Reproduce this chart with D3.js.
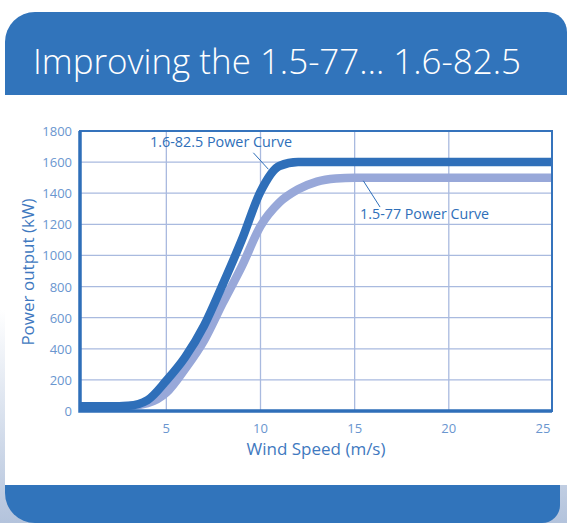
<!DOCTYPE html>
<html>
<head>
<meta charset="utf-8">
<script src="https://cdn.jsdelivr.net/npm/d3@7"></script>
<style>
  body { margin: 0; background: #fff; }
  text { font-family: 'Open Sans', sans-serif; }
</style>
</head>
<body>
<div class="power-chart"></div>
<script>
// wind speed (m/s) and power (kW)
const windSpeed = [0, 1, 2, 3, 4, 5, 6, 7, 8, 9, 10, 11, 12, 13, 14, 15, 16, 17, 18, 19, 20, 21, 22, 23, 24, 25, 26];
const power1682 = [30, 30, 30, 34, 70, 195, 346, 548, 815, 1098, 1410, 1575, 1600, 1600, 1600, 1600, 1600, 1600, 1600, 1600, 1600, 1600, 1600, 1600, 1600, 1600, 1600];
const power1577 = [30, 30, 30, 32, 50, 118, 272, 453, 695, 928, 1188, 1340, 1425, 1475, 1495, 1500, 1500, 1500, 1500, 1500, 1500, 1500, 1500, 1500, 1500, 1500, 1500];
const xTicks = [5, 10, 15, 20, 25];
const yTicks = [0, 200, 400, 600, 800, 1000, 1200, 1400, 1600, 1800];
const titleText = 'Improving the 1.5-77\u2026 1.6-82.5';

const W = 567, H = 523;
const margin = { top: 131, right: 15, bottom: 112, left: 80 };
const width = W - margin.left - margin.right;
const height = H - margin.top - margin.bottom;

const svg = d3.select('.power-chart')
  .append('svg')
  .attr('width', W)
  .attr('height', H);

// background strip at left / corners
const defs = svg.append('defs');
const grad = defs.append('linearGradient')
  .attr('id', 'sideGrad').attr('x1', 0).attr('y1', 0).attr('x2', 0).attr('y2', 1);
grad.append('stop').attr('offset', '0%').attr('stop-color', '#ffffff');
grad.append('stop').attr('offset', '100%').attr('stop-color', '#b3c3dc');
svg.append('rect').attr('x', 0).attr('y', 310).attr('width', W).attr('height', H - 310)
  .attr('fill', 'url(#sideGrad)');
svg.append('rect').attr('x', 5).attr('y', 0).attr('width', W - 5).attr('height', 485)
  .attr('fill', '#fff');

// header bar (top corners rounded, right corner just inside the page)
svg.append('path')
  .attr('d', 'M5,95V42A30,30 0 0 1 35,12H547A20,20 0 0 1 567,32V95Z')
  .attr('fill', '#3174bb');
const title = svg.append('text')
  .attr('x', 33).attr('y', 74)
  .attr('fill', '#fff')
  .attr('font-size', 40)
  .attr('font-weight', 300)
  .text(titleText);
// fit the title to the width it has in the picture
const natural = title.node().getComputedTextLength();
title.attr('font-size', Math.min(42, 40 * 488 / natural));

// footer bar
svg.append('path')
  .attr('d', 'M5,485H560V505A18,18 0 0 1 542,523H35A30,30 0 0 1 5,493Z')
  .attr('fill', '#3174bb');

const g = svg.append('g')
  .attr('transform', 'translate(' + margin.left + ',' + margin.top + ')');

const x = d3.scaleLinear().domain([0.415, 25.48]).range([0, width]);
const y = d3.scaleLinear().domain([0, 1800]).range([height, 0]);

// grid
g.selectAll('.hgrid')
  .data(yTicks.filter(d => d > 0 && d < 1800))
  .enter()
  .append('line')
  .attr('x1', 0).attr('x2', width)
  .attr('y1', d => y(d)).attr('y2', d => y(d))
  .attr('stroke', '#a9badf').attr('stroke-width', 1.3);

g.selectAll('.vgrid')
  .data(xTicks.filter(d => d < 25))
  .enter()
  .append('line')
  .attr('y1', 0).attr('y2', height)
  .attr('x1', d => x(d)).attr('x2', d => x(d))
  .attr('stroke', '#a9badf').attr('stroke-width', 1.3);

// curves
const clip = defs.append('clipPath').attr('id', 'plotClip');
clip.append('rect').attr('width', width).attr('height', height);

const line = d3.line()
  .x((d, i) => x(windSpeed[i]))
  .y(d => y(d))
  .curve(d3.curveMonotoneX);

g.append('path')
  .datum(power1577)
  .attr('clip-path', 'url(#plotClip)')
  .attr('fill', 'none')
  .attr('stroke', '#98a8d9')
  .attr('stroke-width', 8.5)
  .attr('d', line);

g.append('path')
  .datum(power1682)
  .attr('clip-path', 'url(#plotClip)')
  .attr('fill', 'none')
  .attr('stroke', '#2f6fb9')
  .attr('stroke-width', 8.5)
  .attr('d', line);

// frame
g.append('rect')
  .attr('width', width).attr('height', height)
  .attr('fill', 'none')
  .attr('stroke', '#3573bc').attr('stroke-width', 2);
g.append('path')
  .attr('d', 'M0,0V' + height + 'H' + width)
  .attr('fill', 'none')
  .attr('stroke', '#2f6fb9').attr('stroke-width', 3.5);

// axis labels
g.selectAll('.ylab')
  .data(yTicks)
  .enter()
  .append('text')
  .attr('x', -8)
  .attr('y', d => y(d) + 5)
  .attr('text-anchor', 'end')
  .attr('font-size', 13)
  .attr('fill', '#6a96cf')
  .text(d => d);

g.selectAll('.xlab')
  .data(xTicks)
  .enter()
  .append('text')
  .attr('x', d => x(d))
  .attr('y', height + 22)
  .attr('text-anchor', 'middle')
  .attr('font-size', 13)
  .attr('fill', '#6a96cf')
  .text(d => d);

g.append('text')
  .attr('x', width / 2)
  .attr('y', height + 44)
  .attr('text-anchor', 'middle')
  .attr('font-size', 17)
  .attr('fill', '#3f79c0')
  .text('Wind Speed (m/s)');

g.append('text')
  .attr('transform', 'translate(' + (-46) + ',' + (y(900) + 1) + ') rotate(-90)')
  .attr('text-anchor', 'middle')
  .attr('font-size', 17)
  .attr('fill', '#3f79c0')
  .text('Power output (kW)');

// curve callouts
g.append('line')
  .attr('x1', x(9.62)).attr('y1', y(1660)).attr('x2', x(10.42)).attr('y2', y(1554))
  .attr('stroke', '#2f6fb9').attr('stroke-width', 1);
g.append('text')
  .attr('x', x(4.13)).attr('y', y(1697))
  .attr('font-size', 14)
  .attr('fill', '#2f6fb9')
  .attr('textLength', 142)
  .attr('lengthAdjust', 'spacingAndGlyphs')
  .text('1.6-82.5 Power Curve');

g.append('line')
  .attr('x1', x(15.46)).attr('y1', y(1480)).attr('x2', x(16.35)).attr('y2', y(1311))
  .attr('stroke', '#2f6fb9').attr('stroke-width', 1);
g.append('text')
  .attr('x', x(15.29)).attr('y', y(1234))
  .attr('font-size', 14)
  .attr('fill', '#2f6fb9')
  .attr('textLength', 129)
  .attr('lengthAdjust', 'spacingAndGlyphs')
  .text('1.5-77 Power Curve');
</script>
</body>
</html>
